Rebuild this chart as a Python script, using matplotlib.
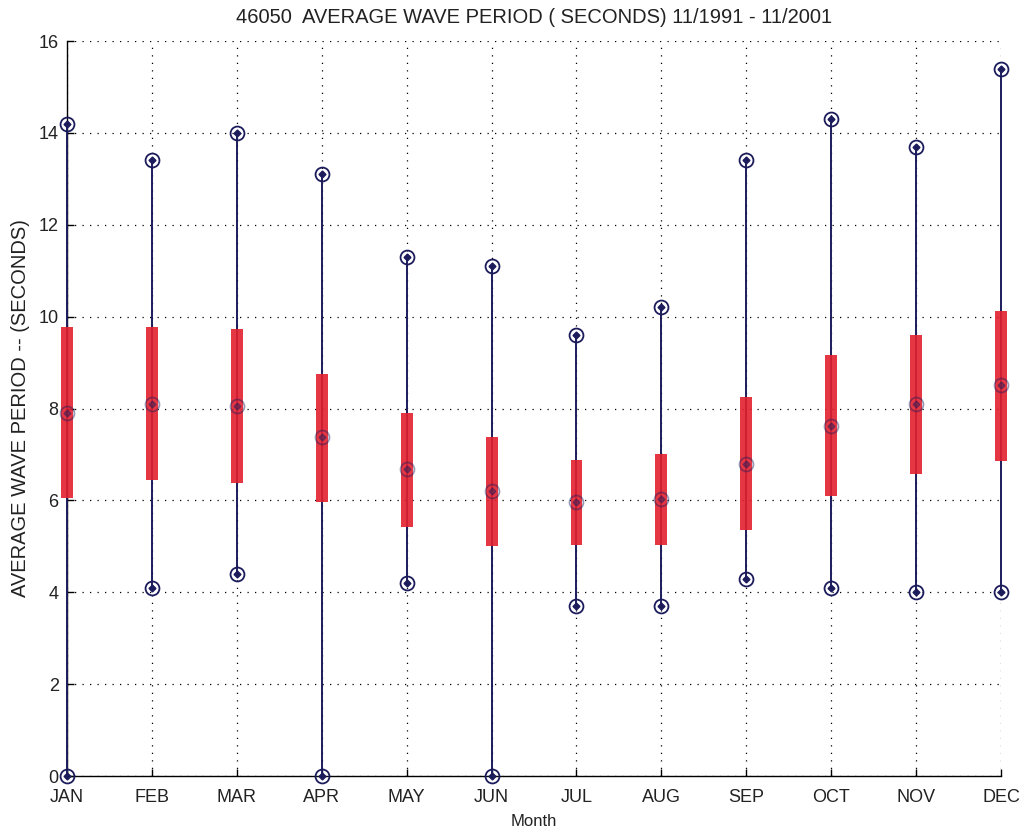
import matplotlib
matplotlib.use("Agg")
import matplotlib.pyplot as plt

# Monthly statistics of average wave period at buoy 46050
months  = ["JAN", "FEB", "MAR", "APR", "MAY", "JUN",
           "JUL", "AUG", "SEP", "OCT", "NOV", "DEC"]
p_max   = [14.2, 13.4, 14.0, 13.1, 11.3, 11.1, 9.6, 10.2, 13.4, 14.3, 13.7, 15.4]
p_min   = [0.0, 4.1, 4.4, 0.0, 4.2, 0.0, 3.7, 3.7, 4.3, 4.1, 4.0, 4.0]
q_hi    = [9.77, 9.77, 9.73, 8.75, 7.90, 7.37, 6.88, 7.01, 8.26, 9.17, 9.60, 10.13]
q_lo    = [6.06, 6.44, 6.38, 5.96, 5.43, 5.01, 5.03, 5.03, 5.35, 6.09, 6.57, 6.86]
p_mean  = [7.91, 8.09, 8.05, 7.37, 6.68, 6.20, 5.97, 6.02, 6.80, 7.63, 8.09, 8.52]

LINE = "#1c1c5c"
BOX = "#e3202e"
TXT = "#222222"

plt.rcParams["font.family"] = "Liberation Sans"
plt.rcParams["text.color"] = TXT
plt.rcParams["axes.labelcolor"] = TXT
plt.rcParams["xtick.labelcolor"] = TXT
plt.rcParams["ytick.labelcolor"] = TXT

fig = plt.figure(figsize=(10.25, 8.34), dpi=100)
ax = fig.add_axes([0.0654, 0.0695, 0.9112, 0.8813])

x = list(range(1, len(months) + 1))

# whiskers from min to max
ax.vlines(x, p_min, p_max, color=LINE, lw=1.4, zorder=3, clip_on=False)
# inter-quartile bars
ax.bar(x, [h - l for h, l in zip(q_hi, q_lo)], bottom=q_lo, width=0.14,
       color=BOX, alpha=0.9, edgecolor="none", zorder=4, clip_on=False)

# circled-dot markers at extremes and means
for ys, a in ((p_max, 1.0), (p_min, 1.0), (p_mean, 0.45)):
    ax.plot(x, ys, ls="none", marker="o", ms=10, mfc="none", mec=LINE,
            mew=1.3, alpha=a, zorder=5, clip_on=False)
    ax.plot(x, ys, ls="none", marker="D", ms=3.5, color=LINE,
            alpha=a, zorder=5, clip_on=False)

ax.set_xlim(1, 12)
ax.set_ylim(0, 16)
ax.set_xticks(x)
ax.set_xticklabels(months)
ax.set_yticks(range(0, 17, 2))

ax.grid(True, color="black", linestyle=(0, (1, 5)), lw=0.9)
ax.set_axisbelow(True)
for s in ("top", "right"):
    ax.spines[s].set_visible(False)
for s in ("left", "bottom"):
    ax.spines[s].set_linewidth(1.0)

ax.tick_params(direction="in", length=5, width=1.0, labelsize=13)
ax.tick_params(axis="x", pad=9)
ax.tick_params(axis="y", pad=6)

ax.set_title("46050  AVERAGE WAVE PERIOD ( SECONDS) 11/1991 - 11/2001",
             fontsize=14.5, pad=13)
ax.set_xlabel("Month", fontsize=12, labelpad=6)
ax.set_ylabel("AVERAGE WAVE PERIOD -- (SECONDS)", fontsize=14.5)
ax.yaxis.set_label_coords(-0.040, 0.5)

fig.savefig("out.png", dpi=100)
